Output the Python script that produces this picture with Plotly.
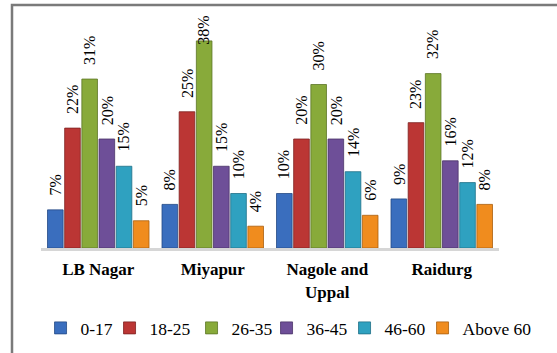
import plotly.graph_objects as go

# Share of respondents by age group in each locality (%)
localities = ["LB Nagar", "Miyapur", "Nagole and Uppal", "Raidurg"]
locality_ticks = ["LB Nagar", "Miyapur", "Nagole and<br>Uppal", "Raidurg"]
age_groups = ["0-17", "18-25", "26-35", "36-45", "46-60", "Above 60"]

age_0_17 = [7, 8, 10, 9]
age_18_25 = [22, 25, 20, 23]
age_26_35 = [31, 38, 30, 32]
age_36_45 = [20, 15, 20, 16]
age_46_60 = [15, 10, 14, 12]
age_above_60 = [5, 4, 6, 8]

series = [age_0_17, age_18_25, age_26_35, age_36_45, age_46_60, age_above_60]
colors = ["#3A6EBE", "#BB3634", "#88AA3A", "#6E4F98", "#2FA1C0", "#F08C1E"]
edges = ["#244A85", "#7E2221", "#5C7526", "#4A3468", "#1E6F86", "#A95F0F"]
legend_widths = [24, 37, 30, 33, 33, 70]  # px reserved for each legend entry's text

W, H = 557, 353
M_L, M_R, M_T, M_B = 41, 58, 30, 105
Y_MAX = 40
BARGAP = 0.10
BARGROUPGAP = 0.09
SERIF = "Liberation Serif, Times New Roman, serif"
LABEL_SIZE = 16

plot_w = W - M_L - M_R
plot_h = H - M_T - M_B
px_per_unit = plot_h / Y_MAX


def label_length(s):
    # approximate advance of a serif label: digits ~0.5em, '%' ~0.83em
    return sum(0.833 if ch == "%" else 0.5 for ch in s) * LABEL_SIZE


fig = go.Figure()
for name, vals, col, edge, lw in zip(age_groups, series, colors, edges, legend_widths):
    fig.add_trace(go.Bar(
        name=name,
        x=localities,
        y=vals,
        marker=dict(color=col, line=dict(color=edge, width=0.8)),
        legendwidth=lw,
        cliponaxis=False,
    ))

# Rotated percentage labels above each bar, centred on the bar's slot;
# labels that would run past the top of the frame are pulled down.
n = len(series)
slot = (1 - BARGAP) / n
gap = 14
top_limit = 16 - M_T  # px above the plot area the labels may reach
annotations = []
for k, vals in enumerate(series):
    for i, v in enumerate(vals):
        txt = f"{v}%"
        L = label_length(txt)
        room = (Y_MAX - v) * px_per_unit - top_limit
        g = min(gap, room - L)
        annotations.append(dict(
            x=i + (k - (n - 1) / 2) * slot,
            y=v,
            xref="x", yref="y",
            text=txt,
            textangle=-90,
            showarrow=False,
            xanchor="center", yanchor="middle",
            yshift=g + L / 2,
            font=dict(family=SERIF, size=LABEL_SIZE, color="#000000"),
        ))

# Outer chart frame
shapes = [dict(
    type="rect", xref="paper", yref="paper",
    x0=(12 - M_L) / plot_w, x1=(W + 5 - M_L) / plot_w,
    y0=-(H + 5 - (H - M_B)) / plot_h, y1=(H - M_B - 5) / plot_h,
    line=dict(color="#7A7A7A", width=2.5),
    fillcolor="rgba(0,0,0,0)", layer="above",
)]

fig.update_layout(
    width=W, height=H,
    margin=dict(l=M_L, r=M_R, t=M_T, b=M_B, autoexpand=False),
    paper_bgcolor="white", plot_bgcolor="white",
    barmode="group", bargap=BARGAP, bargroupgap=BARGROUPGAP,
    font=dict(family=SERIF, color="#000000"),
    annotations=annotations,
    shapes=shapes,
    showlegend=True,
    legend=dict(
        orientation="h",
        xref="paper", yref="paper",
        x=-0.001, y=-(328 - (H - M_B)) / plot_h,
        xanchor="left", yanchor="middle",
        font=dict(family=SERIF, size=17.5, color="#000000"),
        itemwidth=30, entrywidthmode="pixels",
        bgcolor="rgba(0,0,0,0)",
    ),
    xaxis=dict(
        tickmode="array", tickvals=localities, ticktext=locality_ticks,
        tickfont=dict(family=SERIF, size=17, color="#000000", weight="bold"),
        showline=True, linecolor="#D6D6D6", linewidth=3,
        ticks="outside", ticklen=4, tickcolor="rgba(0,0,0,0)",
        showgrid=False, zeroline=False,
    ),
    yaxis=dict(
        range=[0, Y_MAX], visible=False, showgrid=False, zeroline=False,
    ),
)

fig.write_html("out.html")
